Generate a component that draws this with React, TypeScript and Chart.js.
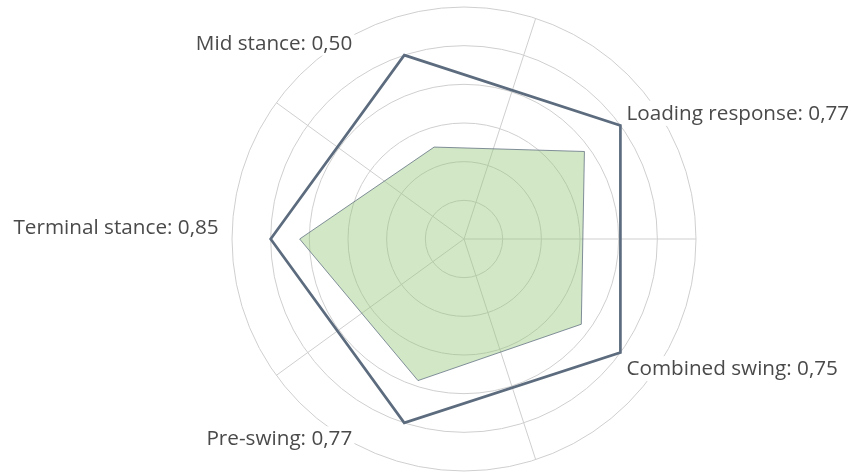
import React, { useEffect, useRef } from "react";
import { Chart, registerables } from "chart.js";

Chart.register(...registerables);

// ---- data ----
const CATEGORIES: string[] = ["Mid stance", "Loading response", "Combined swing", "Pre-swing", "Terminal stance"];
const SCORES: number[] = [0.5, 0.77, 0.75, 0.77, 0.85];
const REFERENCE: number[] = [1, 1, 1, 1, 1];
const R_MIN = 0;
const R_MAX = 1.2;
const R_STEP = 0.2;

// ---- styles ----
const GRID_COLOR = "#cfcfcf";
const LINE_COLOR = "#5c6c7e";
const FILL_COLOR = "rgba(148, 198, 118, 0.42)";
const LABEL_COLOR = "#4a4a4a";
const LABEL_FONT = "20.7px 'Open Sans'";

const fmt = (v: number) => v.toFixed(2).replace(".", ",");

const labelPlugin = {
  id: "vertexLabels",
  afterDatasetsDraw(chart: any) {
    const scale = chart.scales.r;
    const ctx = chart.ctx as CanvasRenderingContext2D;
    ctx.save();
    ctx.font = LABEL_FONT;
    ctx.textBaseline = "alphabetic";
    CATEGORIES.forEach((cat, i) => {
      const text = `${cat}: ${fmt(SCORES[i])}`;
      const p = scale.getPointPosition(i, scale.getDistanceFromCenterForValue(REFERENCE[i]));
      const right = p.x > scale.xCenter + 1;
      const below = p.y > scale.yCenter + 1;
      const w = ctx.measureText(text).width;
      const x = right ? p.x + 6 : p.x - 52 - w;
      const baseline = below ? p.y + 22.5 : p.y - 5.5;
      ctx.fillStyle = "#ffffff";
      ctx.fillRect(x - 2, baseline - 19, w + 4, 25);
      ctx.fillStyle = LABEL_COLOR;
      ctx.textAlign = "left";
      ctx.fillText(text, x, baseline);
    });
    ctx.restore();
  },
};

export default function App() {
  const ref = useRef<HTMLCanvasElement | null>(null);
  useEffect(() => {
    if (!ref.current) return;
    const chart = new Chart(ref.current, {
      type: "radar",
      data: {
        labels: CATEGORIES,
        datasets: [
          {
            label: "Score",
            data: SCORES,
            rAxisID: "r",
            backgroundColor: FILL_COLOR,
            borderColor: "rgba(92,108,126,0.75)",
            borderWidth: 1,
            fill: true,
            pointRadius: 0,
            pointHoverRadius: 0,
          } as any,
          {
            label: "Reference",
            data: REFERENCE,
            rAxisID: "r",
            backgroundColor: "rgba(0,0,0,0)",
            borderColor: LINE_COLOR,
            borderWidth: 2.7,
            fill: false,
            pointRadius: 0,
            pointHoverRadius: 0,
          } as any,
        ],
      },
      options: {
        animation: false,
        responsive: true,
        maintainAspectRatio: false,
        layout: { padding: { left: 74, right: 0, top: 7, bottom: 4 } },
        plugins: { legend: { display: false }, tooltip: { enabled: false } },
        elements: { line: { tension: 0 } },
        scales: {
          r: {
            type: "radialLinear",
            axis: "r",
            min: R_MIN,
            max: R_MAX,
            startAngle: -18,
            ticks: { stepSize: R_STEP, display: false },
            grid: { circular: true, color: GRID_COLOR, lineWidth: 1 },
            angleLines: { display: false },
            pointLabels: { display: false },
          },
          spokes: {
            type: "radialLinear",
            axis: "r",
            min: R_MIN,
            max: R_MAX,
            startAngle: 18,
            labels: CATEGORIES.map(() => ""),
            ticks: { stepSize: R_STEP, display: false },
            grid: { display: false },
            angleLines: { display: true, color: GRID_COLOR, lineWidth: 1 },
            pointLabels: { display: false },
          },
        } as any,
      },
      plugins: [labelPlugin],
    });
    return () => chart.destroy();
  }, []);
  return (
    <div style={{ position: "fixed", left: 0, top: 0, width: 855, height: 476, background: "#fff" }}>
      <canvas ref={ref} />
    </div>
  );
}
